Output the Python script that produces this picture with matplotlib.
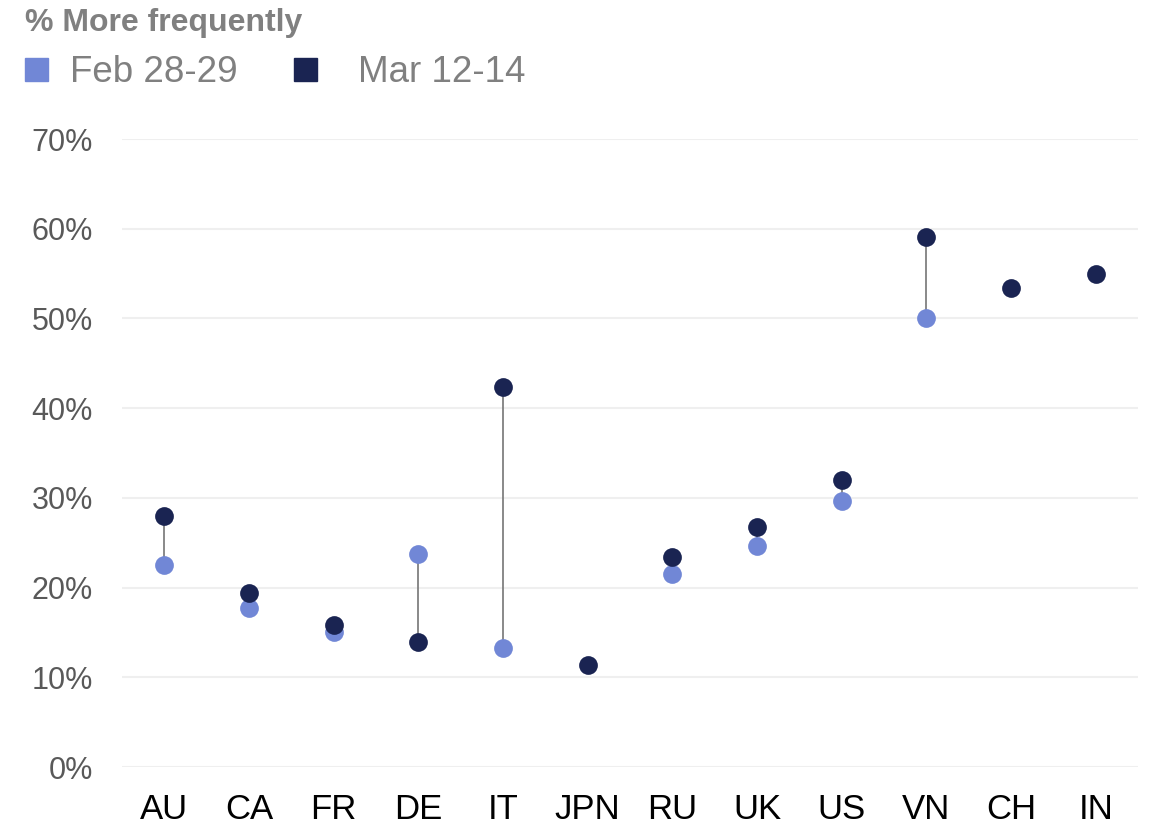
import numpy as np
import matplotlib.pyplot as plt
from matplotlib.patches import Rectangle

plt.rcParams['font.family'] = ['Liberation Sans', 'DejaVu Sans']

# data
countries = ['AU', 'CA', 'FR', 'DE', 'IT', 'JPN', 'RU', 'UK', 'US', 'VN', 'CH', 'IN']
feb = [22.5, 17.7, 15.0, 23.7, 13.3, np.nan, 21.5, 24.6, 29.7, 50.0, np.nan, np.nan]
mar = [28.0, 19.4, 15.8, 13.9, 42.4, 11.4, 23.4, 26.8, 32.0, 59.1, 53.4, 54.9]
yticks = [0, 10, 20, 30, 40, 50, 60, 70]

feb_color = '#7187d6'
mar_color = '#1a2452'

fig = plt.figure(figsize=(11.5, 8.26), dpi=100)
ax = fig.add_axes([0.106, 0.0714, 0.8836, 0.7603])

x = np.arange(len(countries))

# connecting lines
for xi, f, m in zip(x, feb, mar):
    if not np.isnan(f):
        ax.plot([xi, xi], [f, m], color='#808080', lw=1.3, zorder=2)

ax.plot(x, feb, 'o', color=feb_color, ms=13.5, mec='none', zorder=3, clip_on=False)
ax.plot(x, mar, 'o', color=mar_color, ms=13.5, mec='none', zorder=4, clip_on=False)

ax.set_xlim(-0.5, len(countries) - 0.5)
ax.set_ylim(0, 70)
ax.set_yticks(yticks)
ax.set_yticklabels([f'{v}%' for v in yticks], fontsize=22, color='#595959')
ax.set_xticks(x)
ax.set_xticklabels(countries, fontsize=25, color='black')
ax.tick_params(axis='both', length=0)
ax.tick_params(axis='y', pad=21)
ax.tick_params(axis='x', pad=19)
ax.grid(axis='y', color='#efefef', lw=1.5)
ax.set_axisbelow(True)
for s in ax.spines.values():
    s.set_visible(False)

# header and legend
fig.text(0.022, 0.972, '% More frequently', fontsize=23, fontweight='bold',
         color='#808080', va='center')
fig.patches.append(Rectangle((0.0217, 0.902), 0.02, 0.028, transform=fig.transFigure,
                             color=feb_color))
fig.text(0.061, 0.912, 'Feb 28-29', fontsize=26.5, color='#808080', va='center')
fig.patches.append(Rectangle((0.2557, 0.902), 0.02, 0.028, transform=fig.transFigure,
                             color=mar_color))
fig.text(0.311, 0.912, 'Mar 12-14', fontsize=26.5, color='#808080', va='center')

fig.savefig('out.png', dpi=100)
